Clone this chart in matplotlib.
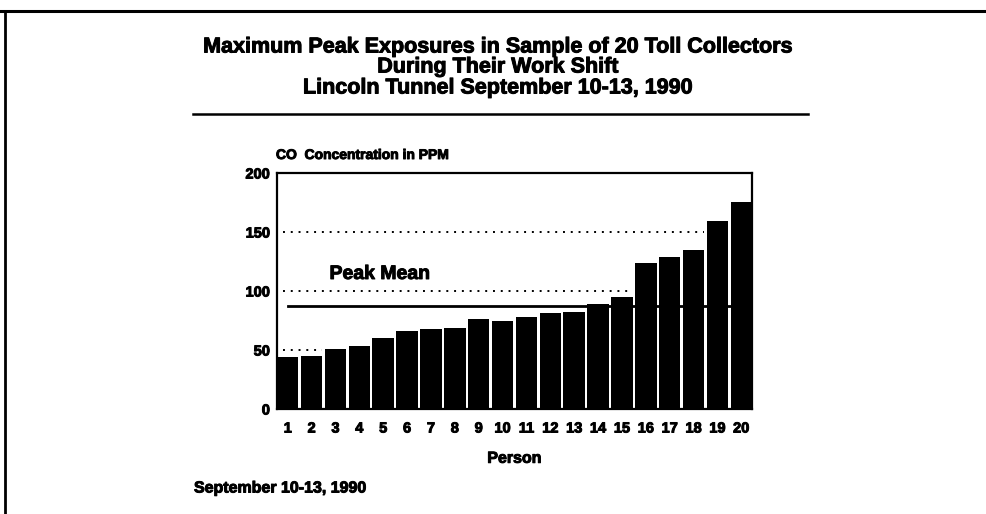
import matplotlib
matplotlib.use('Agg')
import matplotlib.pyplot as plt
import matplotlib.patheffects as pe
from matplotlib.lines import Line2D

# data
persons = list(range(1, 21))
peak_ppm = [44, 45, 51, 53, 60, 66, 68, 69, 76, 75,
            78, 81, 82, 89, 95, 124, 129, 135, 159, 175]
peak_mean = 87.5
grid_levels = [50, 100, 150]
y_ticks = [0, 50, 100, 150, 200]

title_lines = ['Maximum Peak Exposures in Sample of 20 Toll Collectors',
               'During Their Work Shift',
               'Lincoln Tunnel September 10-13, 1990']

plt.rcParams['font.family'] = ['Liberation Sans', 'DejaVu Sans']
plt.rcParams['font.weight'] = 'bold'

W, H = 987, 514
fig = plt.figure(figsize=(W / 100, H / 100), dpi=100)
heavy = [pe.withStroke(linewidth=0.7, foreground='black')]

def fx(px):
    return px / W

def fy(py):
    return 1 - py / H

# page frame (left + top only, as in the scan)
fig.add_artist(Line2D([fx(5), fx(5)], [fy(11), fy(514)], color='black', lw=2))
fig.add_artist(Line2D([fx(0), fx(987)], [fy(11), fy(11)], color='black', lw=2.2))

# title block
for txt, py in zip(title_lines, [47, 67, 88]):
    fig.text(fx(498), fy(py), txt, ha='center', va='center', fontsize=15.5,
             fontweight='bold', path_effects=heavy)
fig.add_artist(Line2D([fx(193), fx(808)], [fy(114), fy(114)], color='black', lw=1.8))

ax = fig.add_axes([fx(277), fy(409), fx(752) - fx(277), (409 - 173) / H])

w = 0.9
ax.bar(persons, peak_ppm, width=w, color='black', zorder=3)
# dotted reference lines run until the first bar that rises above them
for lv in grid_levels:
    first = next(p for p, v in zip(persons, peak_ppm) if v > lv)
    ax.hlines(lv, 0.8, first - w / 2 - 0.1, color='black', linestyle=(0, (1, 3)),
              lw=1.4, zorder=1)
ax.axhline(peak_mean, xmin=0.023, xmax=1, color='black', lw=2, zorder=4)
ax.text(2.75, 114, 'Peak Mean', fontsize=14, fontweight='bold', va='center', ha='left',
        path_effects=heavy)

ax.set_xlim(1 - w / 2, 20 + w / 2)
ax.set_ylim(0, 200)
ax.set_xticks(persons)
ax.set_yticks(y_ticks)
ax.tick_params(axis='both', length=0, labelsize=10.5)
ax.tick_params(axis='x', pad=9)
ax.tick_params(axis='y', pad=5)
for lab in ax.get_xticklabels() + ax.get_yticklabels():
    lab.set_fontweight('bold')
    lab.set_path_effects(heavy)
for s in ax.spines.values():
    s.set_linewidth(1.6)

ax.set_xlabel('Person', fontsize=11.5, fontweight='bold', labelpad=11, path_effects=heavy)
fig.text(fx(276), fy(155), 'CO  Concentration in PPM', fontsize=10, fontweight='bold',
         ha='left', va='center', path_effects=heavy)
fig.text(fx(194), fy(488), 'September 10-13, 1990', fontsize=11.5, fontweight='bold',
         ha='left', va='center', path_effects=heavy)

plt.savefig('out.png', dpi=100)
